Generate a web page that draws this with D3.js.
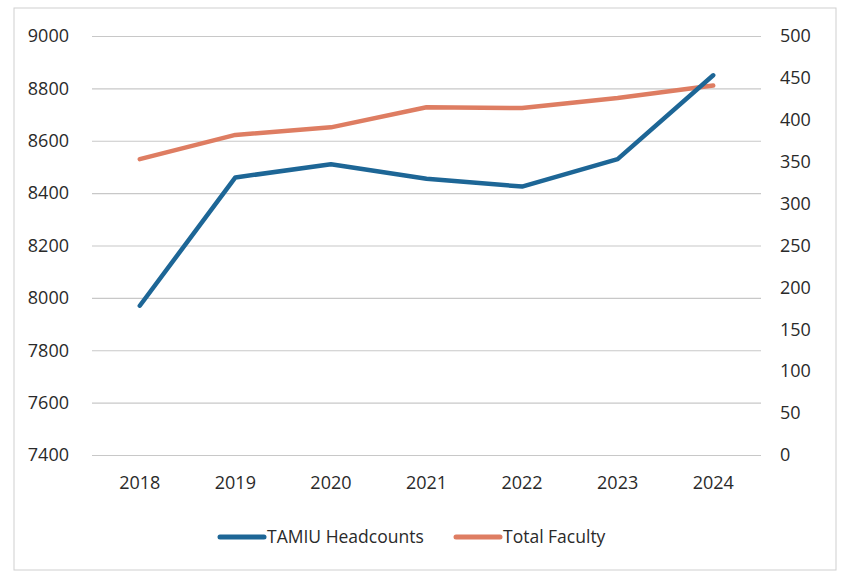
<!DOCTYPE html>
<html>
<head>
<script src="https://cdn.jsdelivr.net/npm/d3@7"></script>
<style>
  body { margin: 0; background: #fff; }
  text { font-family: "Open Sans", "Noto Sans", sans-serif; fill: #2a2a2a; }
</style>
</head>
<body>
<div id="chart"></div>
<script>
// data
var years = ["2018", "2019", "2020", "2021", "2022", "2023", "2024"];
var headcounts = [7970, 8460, 8510, 8455, 8425, 8530, 8850];
var faculty = [353, 382, 391, 415, 414, 426, 441];
var leftTicks = [7400, 7600, 7800, 8000, 8200, 8400, 8600, 8800, 9000];
var rightTicks = [0, 50, 100, 150, 200, 250, 300, 350, 400, 450, 500];

var width = 861, height = 579;
var margin = { top: 36, right: 100, bottom: 124, left: 92 };

var svg = d3.select("#chart").append("svg")
    .attr("width", width)
    .attr("height", height);

// chart frame
svg.append("rect")
    .attr("x", 14).attr("y", 8)
    .attr("width", 822).attr("height", 562)
    .attr("fill", "none")
    .attr("stroke", "#cfcfcf");

var x = d3.scaleBand()
    .domain(years)
    .range([margin.left, width - margin.right]);

var yLeft = d3.scaleLinear()
    .domain([7400, 9000])
    .range([height - margin.bottom, margin.top]);

var yRight = d3.scaleLinear()
    .domain([0, 500])
    .range([height - margin.bottom, margin.top]);

// gridlines
svg.append("g")
    .attr("transform", "translate(" + margin.left + ",0)")
    .call(d3.axisLeft(yLeft).tickValues(leftTicks)
        .tickSize(-(width - margin.left - margin.right)).tickFormat(""))
    .call(function(g) { g.select(".domain").remove(); })
    .selectAll("line").attr("stroke", "#c8c8c8").attr("stroke-width", 1.2);

// left axis labels
svg.append("g")
    .attr("transform", "translate(" + (margin.left - 20) + ",0)")
    .call(d3.axisLeft(yLeft).tickValues(leftTicks).tickSize(0).tickFormat(d3.format("d")))
    .call(function(g) { g.select(".domain").remove(); })
    .selectAll("text").attr("font-size", 18).attr("fill", "#2a2a2a");

// right axis labels
svg.append("g")
    .attr("transform", "translate(" + (width - margin.right + 16) + ",0)")
    .call(d3.axisRight(yRight).tickValues(rightTicks).tickSize(0).tickFormat(d3.format("d")))
    .call(function(g) { g.select(".domain").remove(); })
    .selectAll("text").attr("font-size", 18).attr("fill", "#2a2a2a");

// x axis labels
svg.append("g")
    .attr("transform", "translate(0," + (height - margin.bottom + 18) + ")")
    .call(d3.axisBottom(x).tickSize(0))
    .call(function(g) { g.select(".domain").remove(); })
    .selectAll("text").attr("font-size", 18).attr("fill", "#2a2a2a");

var cx = function(d, i) { return x(years[i]) + x.bandwidth() / 2; };

svg.append("path")
    .datum(faculty)
    .attr("fill", "none")
    .attr("stroke", "#de7d62")
    .attr("stroke-width", 4.5)
    .attr("stroke-linecap", "round")
    .attr("stroke-linejoin", "round")
    .attr("d", d3.line().x(cx).y(function(d) { return yRight(d); }));

svg.append("path")
    .datum(headcounts)
    .attr("fill", "none")
    .attr("stroke", "#1d6696")
    .attr("stroke-width", 4.5)
    .attr("stroke-linecap", "round")
    .attr("stroke-linejoin", "round")
    .attr("d", d3.line().x(cx).y(function(d) { return yLeft(d); }));

// legend
var legend = [
  { name: "TAMIU Headcounts", color: "#1d6696", x: 220 },
  { name: "Total Faculty", color: "#de7d62", x: 456 }
];
var lg = svg.selectAll(".legend")
    .data(legend)
    .enter().append("g")
    .attr("transform", function(d) { return "translate(" + d.x + ",537)"; });

lg.append("line")
    .attr("x1", 0).attr("x2", 44)
    .attr("stroke", function(d) { return d.color; })
    .attr("stroke-width", 5)
    .attr("stroke-linecap", "round");

lg.append("text")
    .attr("x", 47)
    .attr("dy", "0.35em")
    .attr("font-size", 17.5)
    .text(function(d) { return d.name; });
</script>
</body>
</html>
